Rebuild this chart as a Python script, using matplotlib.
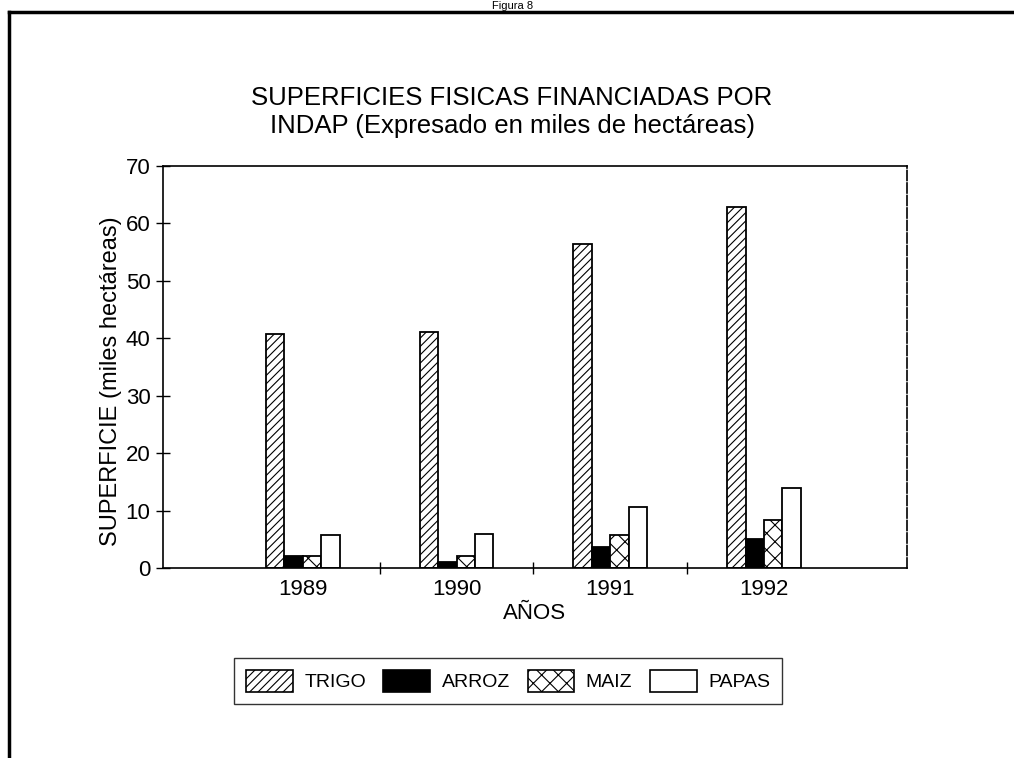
import numpy as np
import matplotlib
matplotlib.use("Agg")
import matplotlib.pyplot as plt
from matplotlib.lines import Line2D
from matplotlib.patches import Patch

plt.rcParams["font.family"] = ["Liberation Sans", "DejaVu Sans"]
plt.rcParams["hatch.linewidth"] = 0.8

# ─── datos (miles de hectáreas) ───
anios = ["1989", "1990", "1991", "1992"]
cultivos = ["TRIGO", "ARROZ", "MAIZ", "PAPAS"]
trigo = [40.8, 41.1, 56.4, 62.8]
arroz = [2.1, 1.0, 3.6, 5.1]
maiz = [2.1, 2.1, 5.7, 8.3]
papas = [5.8, 5.9, 10.6, 14.0]

series = [trigo, arroz, maiz, papas]
estilos = [
    dict(facecolor="white", hatch="////"),
    dict(facecolor="black", hatch=None),
    dict(facecolor="white", hatch="xx"),
    dict(facecolor="white", hatch=None),
]

fig = plt.figure(figsize=(10.14, 7.58), dpi=100, facecolor="white")
ax = fig.add_axes([163 / 1014, 1 - 568 / 758, 744 / 1014, 402 / 758])

x = np.arange(len(anios))
ancho = 0.12
for i, (vals, est) in enumerate(zip(series, estilos)):
    ax.bar(x + (i - 1.5) * ancho, vals, width=ancho, edgecolor="black",
           linewidth=1.3, label=cultivos[i], **est)

ax.set_xlim(-0.91, 3.93)
ax.set_ylim(0, 70)
ax.set_yticks(np.arange(0, 71, 10))
ax.set_xticks(x)
ax.set_xticklabels(anios, fontsize=16)
ax.set_xticks(x[:-1] + 0.5, minor=True)
ax.tick_params(axis="x", which="major", length=0, pad=8)
ax.tick_params(axis="x", which="minor", direction="inout", length=8, width=1)
ax.tick_params(axis="y", direction="inout", length=10, width=1, labelsize=16, pad=4)
for s in ax.spines.values():
    s.set_linewidth(1.2)
ax.spines["right"].set_linestyle((0, (6, 1.5)))

ax.set_xlabel("AÑOS", fontsize=16, labelpad=2)
ax.set_ylabel("SUPERFICIE (miles hectáreas)", fontsize=17)
ax.yaxis.set_label_coords(-0.055, 0.465)

fig.text(0.505, 1 - 112 / 758,
         "SUPERFICIES FISICAS FINANCIADAS POR\nINDAP (Expresado en miles de hectáreas)",
         ha="center", va="center", fontsize=18.5, linespacing=1.25)

# leyenda
handles = [Patch(edgecolor="black", linewidth=1.2, **est) for est in estilos]
leg = fig.legend(handles, cultivos, loc="center", ncol=4,
                 bbox_to_anchor=(508 / 1014, 1 - 681 / 758),
                 fontsize=14, frameon=True, fancybox=False, edgecolor="black",
                 handlelength=2.4, handleheight=1.4, columnspacing=0.9,
                 handletextpad=0.6, borderpad=0.6)
leg.get_frame().set_linewidth(1.0)

# marco de página
fig.add_artist(Line2D([9 / 1014, 1.0], [1 - 12 / 758, 1 - 12 / 758],
                      transform=fig.transFigure, color="black", linewidth=2.5))
fig.add_artist(Line2D([9 / 1014, 9 / 1014], [0.0, 1 - 12 / 758],
                      transform=fig.transFigure, color="black", linewidth=2.5))
fig.text(0.505, 1 - 1 / 758, "Figura 8", ha="center", va="top", fontsize=8)

fig.savefig("out.png", dpi=100, facecolor="white")
